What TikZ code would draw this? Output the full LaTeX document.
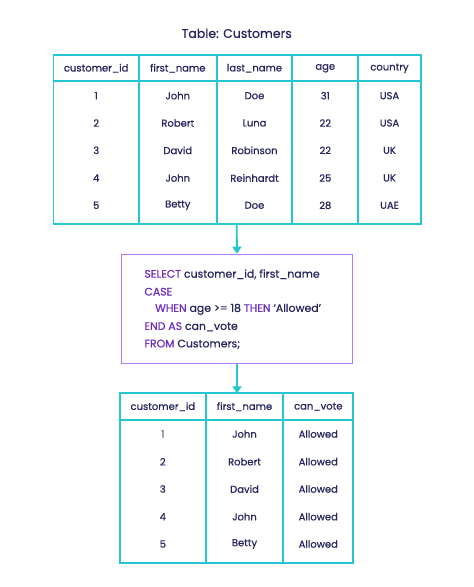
\documentclass[tikz,border=0pt]{standalone}
\usepackage{fontspec}
\setmainfont{Poppins}[UprightFeatures={FakeBold=0.6}]
\usetikzlibrary{arrows.meta}
\definecolor{tcyan}{HTML}{25C6D2}
\definecolor{tpurple}{HTML}{B07AF0}
\definecolor{kw}{HTML}{6E2CC0}
\definecolor{ink}{HTML}{25265E}
\tikzset{
  grid/.style={draw=tcyan, line width=1.8pt},
  cell/.style={text=ink, font=\fontsize{10}{12}\selectfont, inner sep=0pt, anchor=center},
  flow/.style={draw=tcyan, line width=1.8pt, -{Triangle[length=7pt,width=9pt]}},
  qbox/.style={draw=tpurple, line width=1.2pt, fill=white},
  code/.style={text=ink, font=\fontsize{10.9}{12}\selectfont, inner sep=0pt, anchor=west},
}
\newcommand{\kwd}[1]{\textcolor{kw}{#1}}
\begin{document}
\begin{tikzpicture}[x=1pt,y=-1pt]
\useasboundingbox[fill=white] (0,0) rectangle (474,587);
% title
\node[text=ink, font=\fontsize{12.5}{14}\selectfont, inner sep=0pt] (title) at (236.7,33.3) {Table: Customers};
% top table
\draw[grid] (53.5,55) rectangle (420.7,224);
\draw[grid] (53.5,80.7) -- (420.7,80.7);
\foreach \x in {139,216.7,292.3,358.3} \draw[grid] (\x,55) -- (\x,224);
\coordinate (t1) at (236.7,224);
% headers
\foreach \x/\t [count=\i] in {96.2/customer\_id,177.8/first\_name,254.5/last\_name,325.3/age,389.5/country}
  \node[cell] (h\i) at (\x,68.3) {\t};
\foreach \y/\a/\b/\c/\d/\e [count=\r] in {
  95.7/1/John/Doe/31/USA,
  123/2/Robert/Luna/22/USA,
  150.3/3/David/Robinson/22/UK,
  178/4/John/Reinhardt/25/UK,
  205.3/5/Betty/Doe/28/UAE}{
  \node[cell] (r\r a) at (96.2,\y) {\a};
  \node[cell] (r\r b) at (177.8,\y) {\b};
  \node[cell] (r\r c) at (254.5,\y) {\c};
  \node[cell] (r\r d) at (325.3,\y) {\d};
  \node[cell] (r\r e) at (389.5,\y) {\e};
}
% query box
\node[qbox, minimum width=230.6pt, minimum height=109pt, inner sep=0pt] (q) at (237,308.8) {};
\node[code] (l1) at (144.3,274.3) {\kwd{SELECT} customer\_id, first\_name};
\node[code] (l2) at (144.3,291.7) {\kwd{CASE}};
\node[code] (l3) at (155,309.3) {\kwd{WHEN} age >= 18 \kwd{THEN} ‘Allowed’};
\node[code] (l4) at (144.3,326.7) {\kwd{END AS} can\_vote};
\node[code] (l5) at (144.3,344.3) {\kwd{FROM} Customers;};
\draw[flow] (t1) -- (q.north);
% bottom table
\draw[grid] (120,393.3) rectangle (353.3,562.7);
\draw[grid] (120,420) -- (353.3,420);
\foreach \x in {205.7,283.3} \draw[grid] (\x,393.3) -- (\x,562.7);
\coordinate (t2) at (237,393.3);
\draw[flow] (q.south) -- (t2);
\node[cell] (g1) at (162.8,406.7) {customer\_id};
\node[cell] (g2) at (244.5,406.7) {first\_name};
\node[cell] (g3) at (318.3,406.7) {can\_vote};
\foreach \y/\a/\b [count=\r] in {434/1/John,461.7/2/Robert,489/3/David,516.7/4/John,544/5/Betty}{
  \node[cell] (s\r a) at (162.8,\y) {\a};
  \node[cell] (s\r b) at (244.5,\y) {\b};
  \node[cell] (s\r c) at (318.3,\y) {Allowed};
}
\end{tikzpicture}
\end{document}
